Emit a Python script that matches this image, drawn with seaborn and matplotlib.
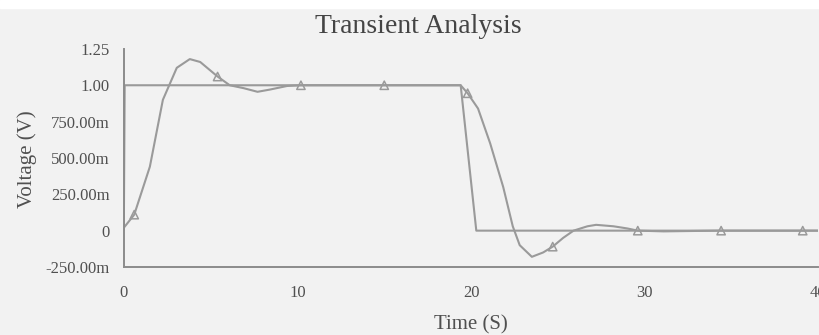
import numpy as np
import pandas as pd
import matplotlib
matplotlib.use('Agg')
import matplotlib.pyplot as plt
import seaborn as sns

# input pulse (time in s, voltage in V)
pulse_t = [0.0, 0.05, 19.4, 20.3, 40.0]
pulse_v = [0.0, 1.0, 1.0, 0.0, 0.0]

# output response
resp_t = [0.0, 0.6, 1.5, 2.25, 2.65, 3.05, 3.8, 4.4, 5.4, 6.1, 6.9, 7.7, 8.4, 9.4, 10.2,
          12.0, 15.0, 19.4, 19.8, 20.4, 21.1, 21.85, 22.4, 22.8, 23.5, 24.15, 24.7,
          25.3, 25.9, 26.7, 27.2, 28.2, 29.0, 29.6, 31.1, 34.2, 39.0, 40.0]
resp_v = [0.02, 0.11, 0.44, 0.90, 1.01, 1.12, 1.18, 1.16, 1.06, 1.00, 0.98, 0.955, 0.97, 0.995, 1.0,
          1.0, 1.0, 1.0, 0.945, 0.84, 0.60, 0.30, 0.03, -0.10, -0.18, -0.15, -0.11,
          -0.05, 0.0, 0.03, 0.04, 0.03, 0.015, 0.0, -0.005, 0.0, 0.0, 0.0]

# triangle markers on the response trace
marker_t = [0.6, 5.4, 10.2, 15.0, 19.8, 24.7, 29.6, 34.4, 39.1]
marker_v = [0.11, 1.06, 1.0, 1.0, 0.945, -0.11, 0.0, 0.0, 0.0]

y_ticks = [-0.25, 0.0, 0.25, 0.5, 0.75, 1.0, 1.25]
y_labels = ['-250.00m', '0', '250.00m', '500.00m', '750.00m', '1.00', '1.25']
x_ticks = [0, 10, 20, 30, 40]

bg = '#f2f2f2'
line_col = '#9a9a9a'
text_col = '#505050'

sns.set_style('white')
plt.rcParams['font.family'] = ['Liberation Serif', 'DejaVu Serif']

fig = plt.figure(figsize=(8.2, 3.35), dpi=100, facecolor=bg)
# thin white strip at the very top
fig.patches.append(plt.Rectangle((0, 0.975), 1, 0.025, transform=fig.transFigure,
                                 color='white', zorder=0))
ax = fig.add_axes([0.151, 0.203, 0.847, 0.651])
ax.set_facecolor(bg)

pulse_df = pd.DataFrame({'t': pulse_t, 'v': pulse_v})
resp_df = pd.DataFrame({'t': resp_t, 'v': resp_v})
mark_df = pd.DataFrame({'t': marker_t, 'v': marker_v})

sns.lineplot(data=pulse_df, x='t', y='v', sort=False, estimator=None,
             color=line_col, linewidth=1.5, ax=ax)
sns.lineplot(data=resp_df, x='t', y='v', sort=False, estimator=None,
             color=line_col, linewidth=1.5, ax=ax)
sns.scatterplot(data=mark_df, x='t', y='v', marker='^', s=36,
                facecolors='none', edgecolor=line_col, linewidth=1.1, ax=ax)

ax.set_xlim(0, 40)
ax.set_ylim(-0.25, 1.25)
ax.set_xticks(x_ticks)
ax.set_yticks(y_ticks)
ax.set_yticklabels(y_labels)

for side in ['top', 'right']:
    ax.spines[side].set_visible(False)
for side in ['left', 'bottom']:
    ax.spines[side].set_color('#8c8c8c')
    ax.spines[side].set_linewidth(1.4)

ax.tick_params(axis='y', direction='out', length=6, width=1.2, color='#8c8c8c',
               labelsize=12, labelcolor=text_col, pad=4)
ax.tick_params(axis='x', direction='out', length=3, width=1.0, color='#8c8c8c',
               labelsize=12, labelcolor=text_col, pad=10)

ax.set_xlabel('Time (S)', fontsize=15, color=text_col)
ax.xaxis.label.set_va('center')
ax.xaxis.set_label_coords(0.5, -0.266)
ax.set_ylabel('Voltage (V)', fontsize=15, color=text_col)
ax.yaxis.label.set_va('center')
ax.yaxis.set_label_coords(-0.139, 0.495)
fig.text(0.51, 0.92, 'Transient Analysis', ha='center', va='center',
         fontsize=20, color='#444444')

fig.savefig('out.png', dpi=100, facecolor=bg)
